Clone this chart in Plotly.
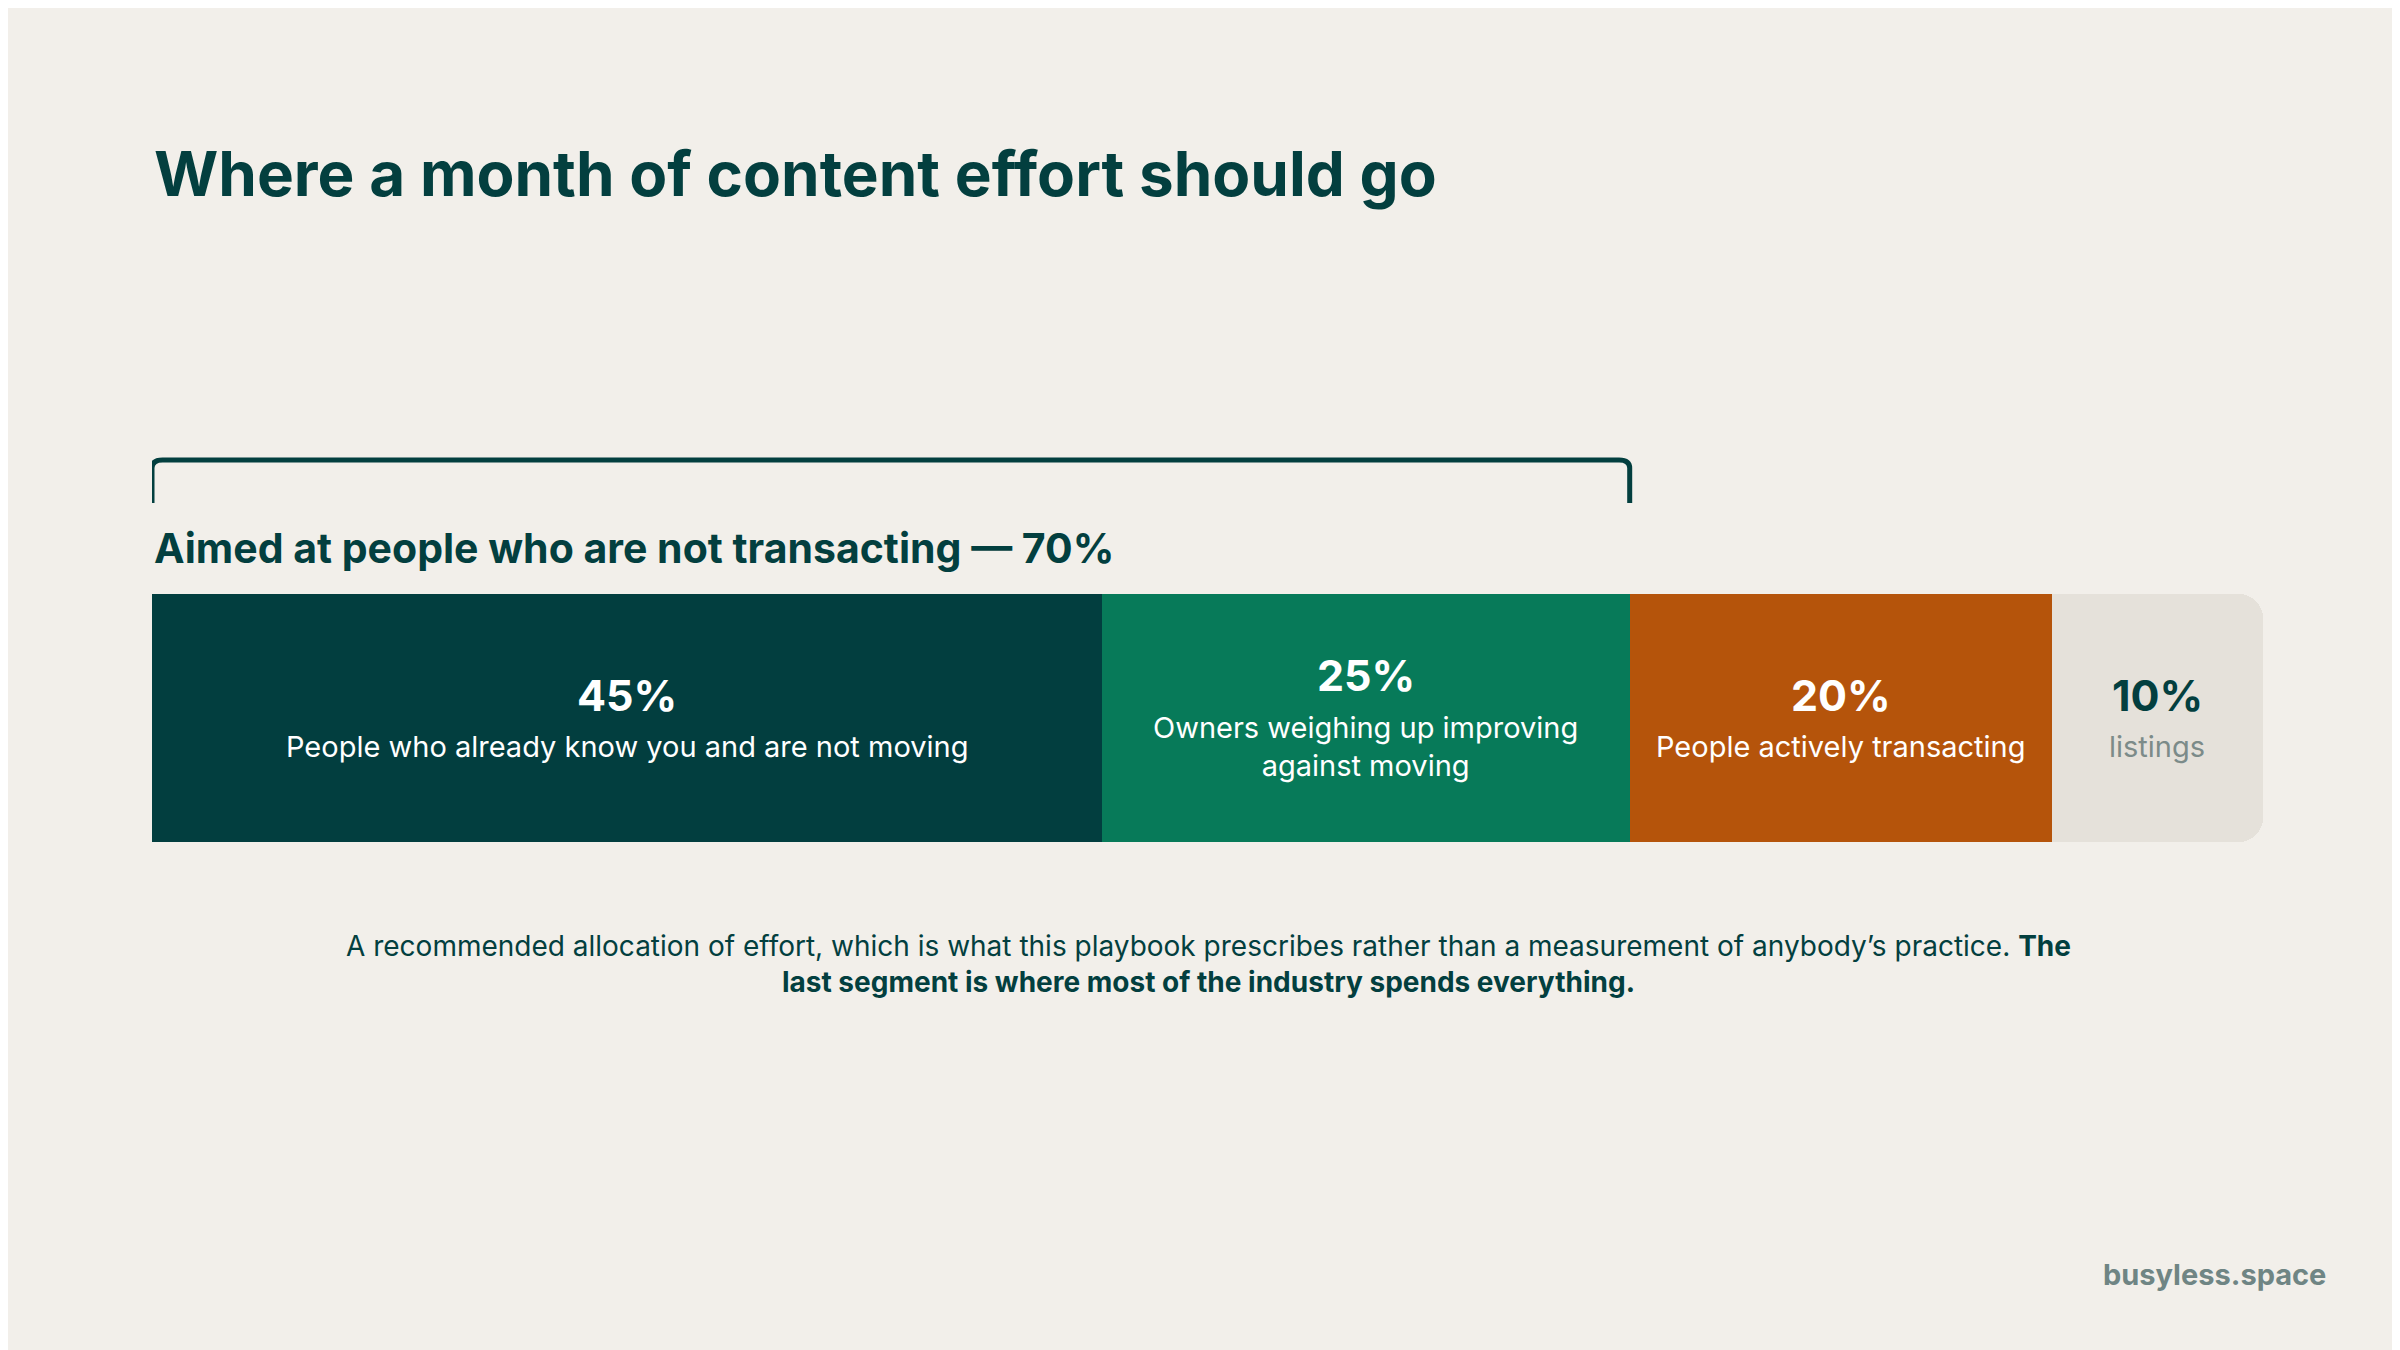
import plotly.graph_objects as go

segments = ["People who already know you and are not moving", "Owners weighing up improving<br>against moving", "People actively transacting", "listings"]
values = [45, 25, 20, 10]
colors = ["#023E3F", "#077A59", "#B5540B", "#E5E1DA"]
pct_colors = ["#FFFFFF", "#FFFFFF", "#FFFFFF", "#033F3F"]
lab_colors = ["#FFFFFF", "#FFFFFF", "#FFFFFF", "#7C8B89"]
bracket_share = 70

FONT = "Inter"
DARK = "#033F3F"
fig = go.Figure()
for s, v, c in zip(segments, values, colors):
    fig.add_trace(go.Bar(x=[v], y=[0], orientation="h", marker=dict(color=c, line=dict(width=0)),
                         hoverinfo="skip", showlegend=False))

fig.update_layout(
    width=2400, height=1350, margin=dict(l=0, r=0, t=0, b=0),
    paper_bgcolor="#F2EFEA", plot_bgcolor="rgba(0,0,0,0)",
    barmode="stack", bargap=0, barcornerradius=24,
    xaxis=dict(domain=[144/2400, 2255/2400], range=[0, 100], visible=False, fixedrange=True),
    yaxis=dict(domain=[1-834/1350, 1-586/1350], range=[-0.5, 0.5], visible=False, fixedrange=True),
    font=dict(family=FONT),
)

cum = 0
for s, v, pc, lc in zip(segments, values, pct_colors, lab_colors):
    mid = cum + v/2
    two = "<br>" in s
    fig.add_annotation(x=mid, xref="x", y=0.506 if two else 0.491, yref="paper", text=f"<b>{v}%</b>",
                       showarrow=False, font=dict(size=43, color=pc, family=FONT))
    fig.add_annotation(x=mid, xref="x", y=0.453, yref="paper", text=s, showarrow=False,
                       font=dict(size=29, color=lc, family=FONT), yanchor="middle")
    cum += v

# bracket
y0, y1 = 1-495/1350, 1-452/1350
fig.add_shape(type="path", xref="x", yref="paper",
              path=f"M 0 {y0} L 0 {y1-0.006} Q 0 {y1} 0.5 {y1} L {bracket_share-0.5} {y1} Q {bracket_share} {y1} {bracket_share} {y1-0.006} L {bracket_share} {y0}",
              line=dict(color=DARK, width=5))
fig.add_annotation(x=144/2400, xref="paper", y=1-540/1350, yref="paper", xanchor="left",
                   text=f"<b>Aimed at people who are not transacting — {bracket_share}%</b>", showarrow=False,
                   font=dict(size=41, color=DARK, family=FONT))

fig.add_annotation(x=144/2400, xref="paper", y=1-166/1350, yref="paper", xanchor="left", yanchor="middle",
                   text="<b>Where a month of content effort should go</b>", showarrow=False,
                   font=dict(size=62, color=DARK, family=FONT))

fig.add_annotation(x=0.5, xref="paper", y=1-956/1350, yref="paper", yanchor="middle",
                   text="A recommended allocation of effort, which is what this playbook prescribes rather than a measurement of anybody’s practice. <b>The</b><br><b>last segment is where most of the industry spends everything.</b>",
                   showarrow=False, align="center", font=dict(size=28, color=DARK, family=FONT),
                   height=100, valign="middle")

fig.add_annotation(x=2320/2400, xref="paper", y=1-1266/1350, yref="paper", xanchor="right", yanchor="middle",
                   text="<b>busyless.space</b>", showarrow=False, font=dict(size=29, color="#6F8584", family=FONT))

fig.write_html("out.html")
